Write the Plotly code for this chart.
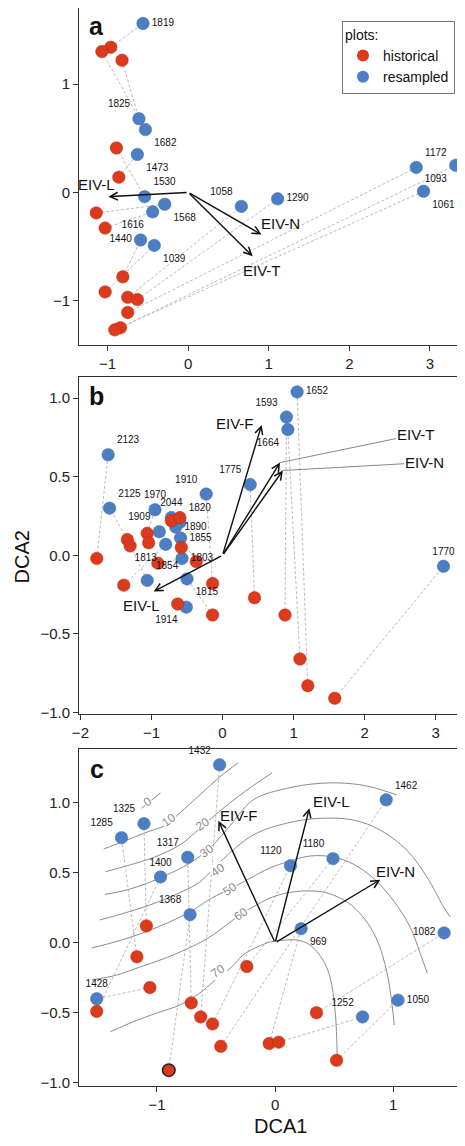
import plotly.graph_objects as go

RED = "#DC3A1C"
BLUE = "#4C7EC4"
FONT = "Liberation Sans, Arial, sans-serif"

# ---------------- Panel a ----------------
a_res_id = ["1819", "1825", "1682", "1473", "1530", "1568", "1616", "1440", "1039", "1058", "1290", "1172", "1093", "1061"]
a_res_x = [-0.56, -0.61, -0.53, -0.63, -0.54, -0.29, -0.44, -0.59, -0.42, 0.66, 1.11, 2.83, 3.32, 2.92]
a_res_y = [1.56, 0.68, 0.58, 0.35, -0.04, -0.11, -0.18, -0.44, -0.49, -0.13, -0.06, 0.23, 0.25, 0.01]
a_res_pos = ["middle right", "top left", "bottom right", "bottom right", "top right", "bottom right", "bottom left",
             "middle left", "bottom right", "top left", "middle right", "top right", "bottom left", "bottom right"]
a_his_x = [-0.96, -0.82, -1.07, -0.86, -0.89, -1.14, -1.03, -0.81, -1.03, -0.75, -0.63, -0.75, -0.84, -0.91]
a_his_y = [1.34, 1.22, 1.30, 0.14, 0.41, -0.19, -0.33, -0.78, -0.92, -0.97, -0.99, -1.11, -1.25, -1.27]
a_vec_name = ["EIV-L", "EIV-N", "EIV-T"]
a_vec_x = [-0.99, 0.91, 0.80]
a_vec_y = [-0.04, -0.39, -0.59]
a_lab_x = [-1.14, 1.14, 0.92]
a_lab_y = [0.07, -0.29, -0.72]

# ---------------- Panel b ----------------
b_res_id = ["2123", "2125", "1970", "1910", "2044", "1820", "1890", "1855", "1909", "1813", "1803", "1854", "1815",
            "1914", "1775", "1593", "1664", "1652", "1770"]
b_res_x = [-1.61, -1.59, -0.95, -0.23, -0.72, -0.60, -0.66, -0.59, -0.89, -0.80, -0.57, -1.06, -0.50, -0.51, 0.39,
           0.90, 0.92, 1.05, 3.11]
b_res_y = [0.64, 0.30, 0.29, 0.39, 0.24, 0.21, 0.18, 0.11, 0.15, 0.07, -0.02, -0.16, -0.15, -0.33, 0.45, 0.88, 0.80,
           1.04, -0.07]
b_res_pos = ["top right", "top right", "top center", "top left", "top center", "top right", "middle right",
             "middle right", "top left", "bottom left", "middle right", "top right", "bottom right", "bottom left",
             "top left", "top left", "bottom left", "middle right", "top center"]
b_his_x = [-1.77, -1.34, -1.06, -0.14, -0.72, -0.60, -0.58, -0.37, -1.04, -1.39, -0.91, -1.30, -0.14, -0.63, 0.45,
           0.88, 1.09, 1.20, 1.58]
b_his_y = [-0.02, 0.10, 0.14, -0.18, 0.22, 0.24, 0.05, -0.04, 0.08, -0.19, -0.05, 0.06, -0.38, -0.31, -0.27, -0.38,
           -0.66, -0.83, -0.91]
b_vec_name = ["EIV-L", "EIV-F", "EIV-T", "EIV-N"]
b_vec_x = [-0.97, 0.55, 0.81, 0.85]
b_vec_y = [-0.23, 0.83, 0.59, 0.54]
b_lab_x = [-1.14, 0.17, 2.73, 2.85]
b_lab_y = [-0.32, 0.84, 0.77, 0.59]
b_lab_leader = [False, False, True, True]

# ---------------- Panel c ----------------
c_res_id = ["1432", "1325", "1285", "1317", "1400", "1368", "1428", "1120", "1180", "1462", "969", "1082", "1050", "1252"]
c_res_x = [-0.47, -1.11, -1.30, -0.74, -0.97, -0.72, -1.51, 0.13, 0.49, 0.94, 0.22, 1.43, 1.04, 0.74]
c_res_y = [1.27, 0.85, 0.75, 0.61, 0.47, 0.20, -0.40, 0.55, 0.60, 1.02, 0.10, 0.07, -0.41, -0.53]
c_res_pos = ["top left", "top left", "top left", "top left", "top center", "top left", "top center", "top left",
             "top left", "top right", "bottom right", "middle left", "middle right", "top left"]
c_his_x = [-0.63, -1.09, -1.17, -0.71, -1.51, -0.90, -1.06, -0.53, -0.24, -0.46, -0.05, 0.35, 0.52, 0.03]
c_his_y = [-0.53, 0.12, -0.10, -0.43, -0.49, -0.91, -0.32, -0.58, -0.17, -0.74, -0.72, -0.50, -0.84, -0.71]
c_his_edge = [0, 0, 0, 0, 0, 1, 0, 0, 0, 0, 0, 0, 0, 0]
c_vec_name = ["EIV-F", "EIV-L", "EIV-N"]
c_vec_x = [-0.48, 0.29, 0.89]
c_vec_y = [0.87, 0.96, 0.45]
c_lab_x = [-0.31, 0.48, 1.02]
c_lab_y = [0.91, 1.01, 0.51]

# fitted surface contour lines
c_cont_level = ["0", "10", "20", "30", "40", "50", "60", "70"]
c_cont_x = [
    [-1.13, -0.97],
    [-1.451, -1.298, -1.103, -0.925, -0.807, -0.637, -0.468, -0.315],
    [-1.436, -1.231, -1.019, -0.807, -0.680, -0.527, -0.383, -0.214, -0.027],
    [-1.442, -1.258, -1.089, -0.919, -0.750, -0.578, -0.411, -0.186, 0.097, 0.380, 0.607, 0.803, 1.030],
    [-1.485, -1.273, -1.061, -0.849, -0.637, -0.468, -0.186, 0.097, 0.380, 0.662, 0.888, 1.113, 1.283, 1.425, 1.481],
    [-1.553, -1.358, -1.146, -0.934, -0.722, -0.536, -0.383, -0.239, -0.044, 0.100, 0.295, 0.490, 0.659, 0.829,
     0.998, 1.142, 1.227, 1.287],
    [-1.553, -1.341, -1.146, -0.951, -0.747, -0.553, -0.400, -0.290, -0.188, -0.044, 0.100, 0.269, 0.439, 0.608,
     0.744, 0.863, 0.947, 0.998, 1.007],
    [-1.394, -1.205, -1.002, -0.807, -0.637, -0.527, -0.358, -0.273, -0.069, 0.015, 0.185, 0.295, 0.405, 0.464,
     0.507, 0.524, 0.524],
]
c_cont_y = [
    [0.96, 1.07],
    [0.669, 0.719, 0.784, 0.841, 0.926, 1.055, 1.184, 1.284],
    [0.507, 0.555, 0.612, 0.698, 0.784, 0.898, 0.998, 1.105, 1.212],
    [0.345, 0.376, 0.423, 0.483, 0.555, 0.655, 0.805, 1.019, 1.102, 1.138, 1.138, 1.114, 1.055],
    [0.162, 0.212, 0.269, 0.341, 0.434, 0.576, 0.769, 0.853, 0.888, 0.876, 0.805, 0.662, 0.471, 0.256, 0.184],
    [-0.038, 0.005, 0.062, 0.133, 0.219, 0.319, 0.383, 0.448, 0.534, 0.576, 0.619, 0.612, 0.562, 0.462, 0.305,
     0.112, -0.074, -0.216],
    [-0.266, -0.231, -0.174, -0.117, -0.045, 0.041, 0.134, 0.205, 0.255, 0.319, 0.355, 0.370, 0.355, 0.291, 0.184,
     0.019, -0.216, -0.502, -0.588],
    [-0.636, -0.566, -0.502, -0.445, -0.359, -0.281, -0.167, -0.088, -0.002, 0.012, 0.019, -0.016, -0.124, -0.245,
     -0.481, -0.766, -0.838],
]
c_clab_x = [-1.084, -0.900, -0.612, -0.578, -0.485, -0.383, -0.290, -0.485]
c_clab_y = [1.007, 0.876, 0.845, 0.655, 0.519, 0.383, 0.205, -0.202]

# ---------------- page geometry (page body has an 8px margin) ----------------
OFF = 8
W, H = 457, 1130
ML, MR = 71, 2
PW = W - ML - MR
MSIZE = 12.5


def ydom(top_ref, bottom_ref):
    return [1 - (bottom_ref - OFF) / H, 1 - (top_ref - OFF) / H]


def px_x(ref_x):
    return (ref_x - OFF - ML) / PW


def px_y(ref_y):
    return 1 - (ref_y - OFF) / H


fig = go.Figure()
annotations = []


def add_panel(k, res_id, res_x, res_y, res_pos, his_x, his_y, his_edge=None):
    xa = "x" if k == 1 else f"x{k}"
    ya = "y" if k == 1 else f"y{k}"
    lx, ly = [], []
    for hx, hy, rx, ry in zip(his_x, his_y, res_x, res_y):
        lx += [hx, rx, None]
        ly += [hy, ry, None]
    # dashed links between historical and resampled plot
    fig.add_trace(go.Scatter(x=lx, y=ly, mode="lines", xaxis=xa, yaxis=ya, showlegend=False, hoverinfo="skip",
                             line=dict(color="#a8a8a8", width=0.8, dash="3px,2px")))
    # resampled
    fig.add_trace(go.Scatter(x=res_x, y=res_y, mode="markers", xaxis=xa, yaxis=ya, text=res_id,
                             showlegend=False, cliponaxis=False,
                             marker=dict(size=MSIZE, color=BLUE, line=dict(color="#3d6aa8", width=0.5))))
    # historical
    if his_edge is None:
        his_edge = [0] * len(his_x)
    fig.add_trace(go.Scatter(x=his_x, y=his_y, mode="markers", xaxis=xa, yaxis=ya, showlegend=False,
                             cliponaxis=False,
                             marker=dict(size=MSIZE, color=RED,
                                         line=dict(color=["#222" if e else "#b52d14" for e in his_edge],
                                                   width=[1.5 if e else 0.5 for e in his_edge]))))
    # plot-number labels on top
    fig.add_trace(go.Scatter(x=res_x, y=res_y, mode="markers+text", text=res_id, textposition=res_pos,
                             textfont=dict(size=10, color="#111", family=FONT), xaxis=xa, yaxis=ya,
                             showlegend=False, cliponaxis=False, hoverinfo="skip",
                             marker=dict(size=MSIZE, color="rgba(0,0,0,0)")))
    return xa, ya


def add_vectors(xa, ya, names, vx, vy, labx, laby, leader=None):
    for i, (n, x, y, tx, ty) in enumerate(zip(names, vx, vy, labx, laby)):
        annotations.append(dict(x=x, y=y, ax=0, ay=0, xref=xa, yref=ya, axref=xa, ayref=ya, text="",
                                showarrow=True, arrowhead=5, arrowsize=1.1, arrowwidth=1.4, arrowcolor="#111",
                                standoff=0))
        if leader is not None and leader[i]:
            annotations.append(dict(x=x, y=y, ax=tx, ay=ty, xref=xa, yref=ya, axref=xa, ayref=ya, text=n,
                                    showarrow=True, arrowhead=0, arrowwidth=0.7, arrowcolor="#555",
                                    font=dict(size=15, color="#111", family=FONT)))
        else:
            annotations.append(dict(x=tx, y=ty, xref=xa, yref=ya, text=n, showarrow=False,
                                    font=dict(size=15, color="#111", family=FONT)))


# contour lines first (panel c) so they sit under everything
for lev, cx, cy in zip(c_cont_level, c_cont_x, c_cont_y):
    fig.add_trace(go.Scatter(x=cx, y=cy, mode="lines", xaxis="x3", yaxis="y3", showlegend=False,
                             hoverinfo="skip", line=dict(color="#8c8c8c", width=1, shape="spline")))
for lev, tx, ty in zip(c_cont_level, c_clab_x, c_clab_y):
    annotations.append(dict(x=tx, y=ty, xref="x3", yref="y3", text=lev, showarrow=False, textangle=-35,
                            bgcolor="white", borderpad=0, font=dict(size=12, color="#8c8c8c", family=FONT)))

xa1, ya1 = add_panel(1, a_res_id, a_res_x, a_res_y, a_res_pos, a_his_x, a_his_y)
add_vectors(xa1, ya1, a_vec_name, a_vec_x, a_vec_y, a_lab_x, a_lab_y)
xa2, ya2 = add_panel(2, b_res_id, b_res_x, b_res_y, b_res_pos, b_his_x, b_his_y)
add_vectors(xa2, ya2, b_vec_name, b_vec_x, b_vec_y, b_lab_x, b_lab_y, b_lab_leader)
xa3, ya3 = add_panel(3, c_res_id, c_res_x, c_res_y, c_res_pos, c_his_x, c_his_y, c_his_edge)
add_vectors(xa3, ya3, c_vec_name, c_vec_x, c_vec_y, c_lab_x, c_lab_y)

# legend entries
fig.add_trace(go.Scatter(x=[None], y=[None], mode="markers", name="historical", legendrank=1,
                         marker=dict(size=11, color=RED)))
fig.add_trace(go.Scatter(x=[None], y=[None], mode="markers", name="resampled", legendrank=2,
                         marker=dict(size=11, color=BLUE)))

# panel letters (positions in page pixels of the reference)
for letter, ref_y in [("a", 26), ("b", 396), ("c", 769)]:
    annotations.append(dict(x=px_x(96.7), y=px_y(ref_y), xref="paper", yref="paper", text=f"<b>{letter}</b>",
                            showarrow=False, xanchor="center", yanchor="middle",
                            font=dict(size=25, color="#111", family=FONT)))

annotations.append(dict(x=px_x(280), y=px_y(1126), xref="paper", yref="paper", text="DCA1", showarrow=False,
                        xanchor="center", yanchor="middle", font=dict(size=20, color="#111", family=FONT)))
annotations.append(dict(x=px_x(21.7), y=px_y(556.7), xref="paper", yref="paper", text="DCA2",
                        showarrow=False, textangle=-90, xanchor="center", yanchor="middle",
                        font=dict(size=20, color="#111", family=FONT)))

axis_common = dict(showgrid=False, zeroline=False, showline=True, linecolor="#333", linewidth=1, mirror=True,
                   ticks="outside", ticklen=5, tickcolor="#333", tickfont=dict(size=15, color="#222", family=FONT),
                   automargin=False)

fig.update_layout(
    width=W, height=H,
    margin=dict(l=ML, r=MR, t=0, b=0),
    plot_bgcolor="white", paper_bgcolor="white",
    font=dict(family=FONT),
    showlegend=True,
    legend=dict(x=px_x(342), y=px_y(20.7), xanchor="left", yanchor="top",
                title=dict(text="plots:", font=dict(size=14, color="#111")),
                font=dict(size=14, color="#111", family=FONT), bordercolor="#777", borderwidth=1,
                bgcolor="white", itemsizing="constant", tracegroupgap=0, entrywidth=72,
                entrywidthmode="pixels"),
    xaxis=dict(domain=[0, 1], range=[-1.354, 3.41], anchor="y", tickvals=[-1, 0, 1, 2, 3], **axis_common),
    yaxis=dict(domain=ydom(8.3, 345), range=[-1.41, 1.70], anchor="x", tickvals=[-1, 0, 1], **axis_common),
    xaxis2=dict(domain=[0, 1], range=[-2.02, 3.385], anchor="y2", tickvals=[-2, -1, 0, 1, 2, 3], **axis_common),
    yaxis2=dict(domain=ydom(377.3, 714), range=[-1.01, 1.133], anchor="x2",
                tickvals=[-1, -0.5, 0, 0.5, 1], tickformat=".1f", **axis_common),
    xaxis3=dict(domain=[0, 1], range=[-1.66, 1.59], anchor="y3", tickvals=[-1, 0, 1], **axis_common),
    yaxis3=dict(domain=ydom(749.3, 1085.7), range=[-1.021, 1.381], anchor="x3",
                tickvals=[-1, -0.5, 0, 0.5, 1], tickformat=".1f", **axis_common),
    annotations=annotations,
)

fig.write_html("out.html")
